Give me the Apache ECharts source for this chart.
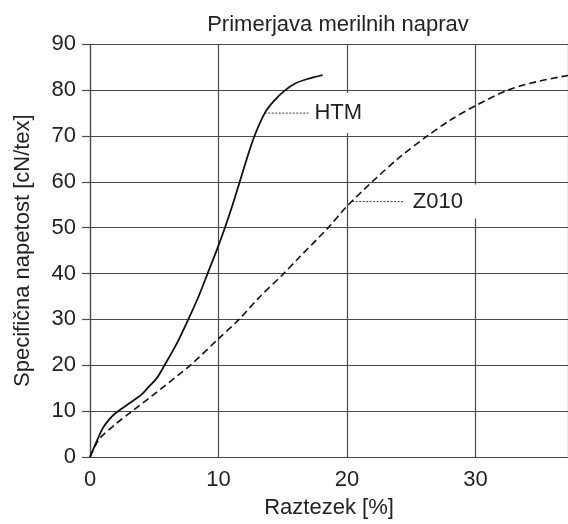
<!DOCTYPE html>
<html>
<head>
<meta charset="utf-8">
<script src="https://cdn.jsdelivr.net/npm/echarts@6/dist/echarts.min.js"></script>
<style>
html,body{margin:0;padding:0;background:#fff;}
#c{width:568px;height:524px;}
</style>
</head>
<body>
<div id="c"></div>
<script>
var titleText = 'Primerjava merilnih naprav';
var xName = 'Raztezek [%]';
var yName = 'Specifična napetost [cN/tex]';

var htm = [[0,0],[0.5,3.3],[1.0,6.3],[1.5,8.2],[2.0,9.6],[3.0,11.6],[4.0,13.6],[4.6,15.4],[5.2,17.2],[5.8,20.0],[6.8,25.0],[7.65,30.0],[8.45,35.0],[9.15,40.0],[9.85,45.0],[10.5,50.0],[11.1,55.0],[11.65,60.0],[12.2,65.0],[12.8,70.0],[13.6,75.0],[14.3,77.6],[15.1,79.8],[16.0,81.5],[17.0,82.5],[18.1,83.3]];
var z010 = [[0,0],[0.4,2.4],[0.8,4.2],[2.0,7.2],[3.1,9.6],[5.4,14.6],[7.8,20.0],[10.0,25.8],[11.6,30.0],[13.1,34.6],[15.0,39.8],[16.2,43.3],[18.5,49.9],[20.0,54.7],[22.3,60.9],[24.2,65.6],[26.2,69.9],[28.0,73.4],[30.0,76.6],[32.6,80.1],[35.0,82.0],[37.2,83.2]];

var htmLeader = [[13.6,75.0],[17.0,75.0]];
var z010Leader = [[20.4,55.7],[24.5,55.7]];
var htmLabel = ['HTM'];
var z010Label = ['Z010'];

var xMin = 0, xMax = 37.2, xInterval = 10;
var yMin = 0, yMax = 90, yInterval = 10;

var FONT = '"Liberation Sans", Arial, sans-serif';
var TXT = '#222';
var GRID = '#4a4a4a';

var chart = echarts.init(document.getElementById('c'), null, {renderer:'canvas'});

function labelSeries(pt, text, pad) {
  return {
    type: 'scatter',
    data: [pt],
    symbolSize: 0,
    silent: true,
    z: 5,
    itemStyle: {opacity: 1},
    label: {
      show: true,
      position: 'right',
      distance: 1,
      formatter: text,
      color: TXT,
      opacity: 1,
      fontFamily: FONT,
      fontSize: 22,
      backgroundColor: '#fff',
      padding: pad
    }
  };
}

chart.setOption({
  animation: false,
  backgroundColor: '#fff',
  title: {
    text: titleText,
    left: 333,
    top: 9,
    textAlign: 'center',
    textStyle: {fontFamily: FONT, fontSize: 22, fontWeight: 'normal', color: TXT}
  },
  grid: {left: 90, right: -6, top: 44.3, bottom: 64.7, containLabel: false},
  xAxis: {
    type: 'value',
    min: xMin, max: xMax, interval: xInterval,
    name: xName,
    nameLocation: 'middle',
    nameGap: 40,
    nameTextStyle: {fontFamily: FONT, fontSize: 22, color: TXT},
    axisLine: {show: true, onZero: false, lineStyle: {color: GRID, width: 1.2}},
    axisTick: {show: false},
    axisLabel: {fontFamily: FONT, fontSize: 22, color: TXT, margin: 12, showMaxLabel: false},
    splitLine: {show: true, lineStyle: {color: GRID, width: 1.2}}
  },
  yAxis: {
    type: 'value',
    min: yMin, max: yMax, interval: yInterval,
    name: yName,
    nameLocation: 'middle',
    nameGap: 56,
    nameTextStyle: {fontFamily: FONT, fontSize: 22, color: TXT},
    axisLine: {show: true, onZero: false, lineStyle: {color: GRID, width: 1.2}},
    axisTick: {show: true, length: 8, inside: false, lineStyle: {color: GRID, width: 1.2}},
    axisLabel: {fontFamily: FONT, fontSize: 22, color: TXT, margin: 14},
    splitLine: {show: true, lineStyle: {color: GRID, width: 1.2}}
  },
  series: [
    {
      type: 'line', name: 'HTM', data: htm, showSymbol: false, smooth: 0.3, silent: true, z: 3,
      lineStyle: {color: '#111', width: 1.8, type: 'solid'}
    },
    {
      type: 'line', name: 'Z010', data: z010, showSymbol: false, smooth: 0.3, silent: true, z: 3,
      lineStyle: {color: '#111', width: 1.6, type: [7, 4]}
    },
    {
      type: 'line', data: htmLeader, showSymbol: false, silent: true, z: 4,
      lineStyle: {color: '#222', width: 0.9, type: [2, 1.5]}
    },
    {
      type: 'line', data: z010Leader, showSymbol: false, silent: true, z: 4,
      lineStyle: {color: '#222', width: 0.9, type: [2, 1.5]}
    },
    labelSeries(htmLeader[1], htmLabel[0], [9, 10, 9, 5]),
    labelSeries(z010Leader[1], z010Label[0], [6, 16, 6, 7])
  ]
});
</script>
</body>
</html>
